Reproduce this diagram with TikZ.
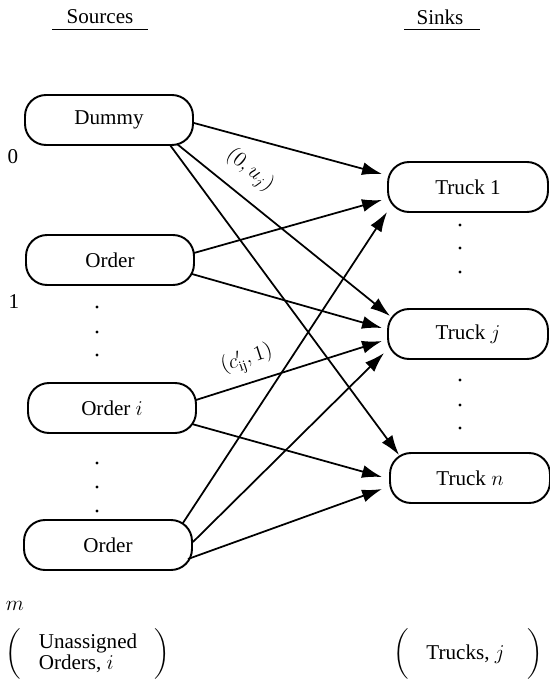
\documentclass[tikz,border=0pt]{standalone}
\usepackage{amsmath}
\usepackage{fontspec}
\setmainfont{Liberation Serif}
\usepackage{tikz}
\usetikzlibrary{calc}
\usetikzlibrary{arrows.meta}
\usetikzlibrary{positioning}

\newcommand{\twolines}{\begin{tabular}{@{}l@{}}Unassigned\\[-2pt] Orders, $i$\end{tabular}}

\begin{document}
\begin{tikzpicture}[
x=0.02cm, y=-0.02cm,
MyBoxes/.style={draw=black, line width=1.1pt, rounded corners=0.42cm, minimum height=1cm, inner sep=0pt},
SourceBox/.style={MyBoxes, minimum width=3.36cm},
SinkBox/.style={MyBoxes, minimum width=3.2cm},
Flows/.style={draw=black, line width=1pt, -{Latex[length=4mm, width=2.6mm]}},
MyDots/.style={fill=black},
every node/.style={font=\fontsize{12}{14}\selectfont}
]
\useasboundingbox (0,0) rectangle (550,685);

% headings
\node (Sources) at (100,17) {Sources};
\node (Sinks) at (440,17) {Sinks};
\draw[thin] ($(Sources.south west)+(-8,-1)$) -- ($(Sources.south east)+(8,-1)$);
\draw[thin] ($(Sinks.south west)+(-6,-1)$) -- ($(Sinks.south east)+(10,-1)$);

% sources
\node[SourceBox] (Dummy) at (109,120) {Dummy};
\node[SourceBox] (Order1) at (110,260) {Order};
\node[SourceBox] (Orderi) at (112,408) {Order $i$};
\node[SourceBox] (Orderm) at (108,545) {Order};

\node (Lzero) at (13,157) {0};
\node (Lone) at (14,302) {1};
\node (Lm) at (15,606) {$m$};

% sinks
\node[SinkBox] (Truck1) at (468,187) {Truck 1};
\node[SinkBox] (Truckj) at (468,334) {Truck $j$};
\node[SinkBox] (Truckn) at (470,478) {Truck $n$};

% dots
\foreach \y in {307,332,355,463,487,511}
  \fill[MyDots] (97,\y) circle (0.9pt);
\foreach \y in {225,248,272,380,405,428}
  \fill[MyDots] (460,\y) circle (0.9pt);

% arcs
\draw[Flows] ($(Dummy.east)+(0,3)$) -- ($(Truck1.west)+(-5,-13)$);
\draw[Flows] ($(Dummy.south east)+(-17,-2)$) -- ($(Truckj.west)+(3,-18)$);
\draw[Flows] ($(Dummy.south east)+(-24,-1)$) -- ($(Truckn.west)+(10,-23)$);
\draw[Flows] ($(Order1.east)+(-1,-7)$) -- ($(Truck1.west)+(-5,13)$);
\draw[Flows] ($(Order1.east)+(-3,14)$) -- ($(Truckj.west)+(-5,-6)$);
\draw[Flows] ($(Orderi.east)+(-1,-8)$) -- ($(Truckj.west)+(-5,7)$);
\draw[Flows] ($(Orderi.east)+(-5,16)$) -- ($(Truckn.west)+(-7,-1)$);
\draw[Flows] ($(Orderm.east)+(-10,-22)$) -- ($(Truck1.west)+(0,25)$);
\draw[Flows] ($(Orderm.east)+(0,-3)$) -- ($(Truckj.west)+(-3,19)$);
\draw[Flows] ($(Orderm.east)+(-5,14)$) -- ($(Truckn.west)+(-7,11)$);

\node[rotate=-40] (Cdummy) at (250,170) {$(0,u_j)$};
\node[rotate=18] (Corder) at (247,360) {$(c'_{\text{ij}},1)$};

% bottom
\node (Lsources) at (88,654) {$\left(\hspace{0.35cm}\twolines\hspace{0.35cm}\right)$};
\node (Lsinks) at (468,654) {$\left(\vphantom{\twolines}\hspace{0.35cm}\text{Trucks, $j$}\hspace{0.45cm}\right)$};
\end{tikzpicture}
\end{document}
